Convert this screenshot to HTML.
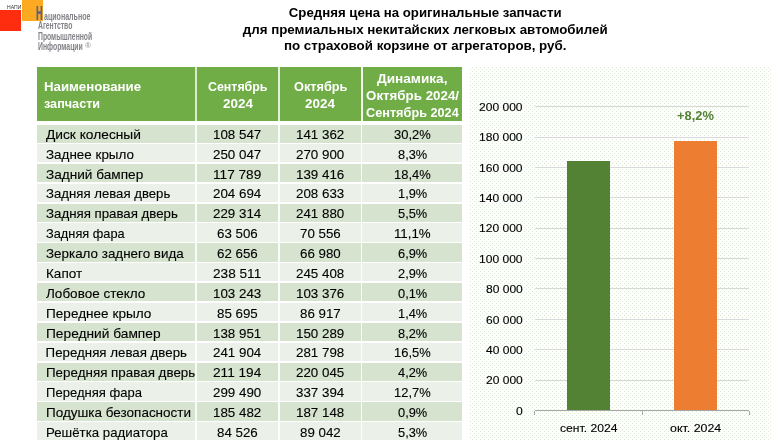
<!DOCTYPE html>
<html lang="ru"><head><meta charset="utf-8"><title>Средняя цена на оригинальные запчасти</title>
<style>
html,body{margin:0;padding:0;background:#fff}
body{position:relative;width:780px;height:445px;overflow:hidden;font-family:"Liberation Sans",sans-serif}
.r{position:absolute}
.t{position:absolute;white-space:nowrap;line-height:1;transform-origin:0 0;color:#000}
.sh{text-shadow:0.55px 0 0 #63657b}
.c{-webkit-text-stroke:0.12px currentColor}
</style></head><body>
<div id="logo">
<div class="r" style="left:0.00px;top:10.00px;width:20.90px;height:20.80px;background:#ff2d0f;"></div>
<div class="r" style="left:22.00px;top:0.00px;width:21.00px;height:20.60px;background:#fdaa22;"></div>
<span class="t" style="left:6.70px;top:5.75px;font-size:4.700px;color:#333;transform:scaleX(1.0907);">НАПИ</span>
<span class="t sh" style="left:36.30px;top:4.20px;font-size:19.400px;font-weight:700;color:#63657b;transform:scaleX(0.4709);">Н</span>
<span class="t" style="left:43.60px;top:11.90px;font-size:10.200px;font-weight:700;color:#828288;transform:scaleX(0.6924);">ациональное</span>
<span class="t" style="left:38.00px;top:21.30px;font-size:10.000px;font-weight:700;color:#828288;transform:scaleX(0.6833);">Агентство</span>
<span class="t" style="left:38.00px;top:31.70px;font-size:10.000px;font-weight:700;color:#828288;transform:scaleX(0.6803);">Промышленной</span>
<span class="t" style="left:38.00px;top:41.80px;font-size:10.000px;font-weight:700;color:#828288;transform:scaleX(0.6871);">Информации</span>
<span class="t" style="left:85.20px;top:42.20px;font-size:8.000px;color:#8e8e96;transform:scaleX(1.0159);">®</span>
</div>
<div id="title">
<span class="t" style="left:288.84px;top:6.30px;font-size:13.220px;font-weight:700;">Средняя цена на оригинальные запчасти</span>
<span class="t" style="left:242.78px;top:23.00px;font-size:13.333px;font-weight:700;">для премиальных некитайских легковых автомобилей</span>
<span class="t" style="left:283.97px;top:38.60px;font-size:13.333px;font-weight:700;">по страховой корзине от агрегаторов, руб.</span>
</div>
<div id="table">
<div class="r" style="left:37.40px;top:67.40px;width:424.70px;height:53.50px;background:#70ad47;"></div>
<div class="r" style="left:37.40px;top:125.00px;width:424.70px;height:17.50px;background:#d5e3cf;"></div>
<div class="r" style="left:37.40px;top:143.90px;width:424.70px;height:18.30px;background:#ebf1e9;"></div>
<div class="r" style="left:37.40px;top:163.77px;width:424.70px;height:18.30px;background:#d5e3cf;"></div>
<div class="r" style="left:37.40px;top:183.65px;width:424.70px;height:18.30px;background:#ebf1e9;"></div>
<div class="r" style="left:37.40px;top:203.52px;width:424.70px;height:18.30px;background:#d5e3cf;"></div>
<div class="r" style="left:37.40px;top:223.39px;width:424.70px;height:18.30px;background:#ebf1e9;"></div>
<div class="r" style="left:37.40px;top:243.27px;width:424.70px;height:18.30px;background:#d5e3cf;"></div>
<div class="r" style="left:37.40px;top:263.14px;width:424.70px;height:18.30px;background:#ebf1e9;"></div>
<div class="r" style="left:37.40px;top:283.01px;width:424.70px;height:18.30px;background:#d5e3cf;"></div>
<div class="r" style="left:37.40px;top:302.88px;width:424.70px;height:18.30px;background:#ebf1e9;"></div>
<div class="r" style="left:37.40px;top:322.76px;width:424.70px;height:18.30px;background:#d5e3cf;"></div>
<div class="r" style="left:37.40px;top:342.63px;width:424.70px;height:18.30px;background:#ebf1e9;"></div>
<div class="r" style="left:37.40px;top:362.50px;width:424.70px;height:18.30px;background:#d5e3cf;"></div>
<div class="r" style="left:37.40px;top:382.38px;width:424.70px;height:18.30px;background:#ebf1e9;"></div>
<div class="r" style="left:37.40px;top:402.25px;width:424.70px;height:18.30px;background:#d5e3cf;"></div>
<div class="r" style="left:37.40px;top:422.12px;width:424.70px;height:18.35px;background:#ebf1e9;"></div>
<div class="r" style="left:195.00px;top:67.40px;width:2.00px;height:53.50px;background:rgba(255,255,255,0.74);"></div>
<div class="r" style="left:195.15px;top:125.00px;width:1.70px;height:316.00px;background:rgba(255,255,255,0.85);"></div>
<div class="r" style="left:278.00px;top:67.40px;width:2.00px;height:53.50px;background:rgba(255,255,255,0.8);"></div>
<div class="r" style="left:278.15px;top:125.00px;width:1.70px;height:316.00px;background:rgba(255,255,255,0.88);"></div>
<div class="r" style="left:360.80px;top:67.40px;width:1.75px;height:53.50px;background:rgba(255,255,255,0.92);"></div>
<div class="r" style="left:360.95px;top:125.00px;width:1.45px;height:316.00px;background:rgba(255,255,255,0.92);"></div>
<span class="t" style="left:44.40px;top:80.00px;font-size:13.302px;font-weight:700;color:#fff;transform:scaleX(0.9952);">Наименование</span>
<span class="t" style="left:44.40px;top:96.90px;font-size:13.302px;font-weight:700;color:#fff;transform:scaleX(0.9505);">запчасти</span>
<span class="t" style="left:207.87px;top:80.00px;font-size:13.302px;font-weight:700;color:#fff;transform:scaleX(0.9317);">Сентябрь</span>
<span class="t" style="left:222.63px;top:96.90px;font-size:13.302px;font-weight:700;color:#fff;transform:scaleX(1.0116);">2024</span>
<span class="t" style="left:293.57px;top:80.00px;font-size:13.302px;font-weight:700;color:#fff;transform:scaleX(0.9583);">Октябрь</span>
<span class="t" style="left:305.33px;top:96.90px;font-size:13.302px;font-weight:700;color:#fff;transform:scaleX(1.0116);">2024</span>
<span class="t" style="left:377.07px;top:71.60px;font-size:13.302px;font-weight:700;color:#fff;transform:scaleX(1.0236);">Динамика,</span>
<span class="t" style="left:365.77px;top:88.50px;font-size:13.302px;font-weight:700;color:#fff;transform:scaleX(1.0034);">Октябрь 2024/</span>
<span class="t" style="left:365.93px;top:106.00px;font-size:13.302px;font-weight:700;color:#fff;transform:scaleX(0.9551);">Сентябрь 2024</span>
<span class="t c" style="left:45.60px;top:127.85px;font-size:13.302px;transform:scaleX(1.0340);">Диск колесный</span>
<span class="t c" style="left:213.47px;top:127.85px;font-size:13.302px;transform:scaleX(1.0036);">108 547</span>
<span class="t c" style="left:296.18px;top:127.85px;font-size:13.302px;transform:scaleX(1.0036);">141 362</span>
<span class="t c" style="left:393.95px;top:127.85px;font-size:13.302px;transform:scaleX(0.9735);">30,2%</span>
<span class="t c" style="left:45.60px;top:147.72px;font-size:13.302px;transform:scaleX(1.0104);">Заднее крыло</span>
<span class="t c" style="left:213.47px;top:147.72px;font-size:13.302px;transform:scaleX(1.0036);">250 047</span>
<span class="t c" style="left:296.18px;top:147.72px;font-size:13.302px;transform:scaleX(1.0036);">270 900</span>
<span class="t c" style="left:397.69px;top:147.72px;font-size:13.302px;transform:scaleX(0.9639);">8,3%</span>
<span class="t c" style="left:45.60px;top:167.60px;font-size:13.302px;transform:scaleX(1.0242);">Задний бампер</span>
<span class="t c" style="left:213.47px;top:167.60px;font-size:13.302px;transform:scaleX(1.0249);">117 789</span>
<span class="t c" style="left:296.18px;top:167.60px;font-size:13.302px;transform:scaleX(1.0036);">139 416</span>
<span class="t c" style="left:393.95px;top:167.60px;font-size:13.302px;transform:scaleX(0.9735);">18,4%</span>
<span class="t c" style="left:45.60px;top:187.47px;font-size:13.302px;transform:scaleX(0.9912);">Задняя левая дверь</span>
<span class="t c" style="left:213.47px;top:187.47px;font-size:13.302px;transform:scaleX(1.0036);">204 694</span>
<span class="t c" style="left:296.18px;top:187.47px;font-size:13.302px;transform:scaleX(1.0036);">208 633</span>
<span class="t c" style="left:397.69px;top:187.47px;font-size:13.302px;transform:scaleX(0.9639);">1,9%</span>
<span class="t c" style="left:45.60px;top:207.34px;font-size:13.302px;transform:scaleX(0.9976);">Задняя правая дверь</span>
<span class="t c" style="left:213.47px;top:207.34px;font-size:13.302px;transform:scaleX(1.0036);">229 314</span>
<span class="t c" style="left:296.18px;top:207.34px;font-size:13.302px;transform:scaleX(1.0036);">241 880</span>
<span class="t c" style="left:397.69px;top:207.34px;font-size:13.302px;transform:scaleX(0.9639);">5,5%</span>
<span class="t c" style="left:45.60px;top:227.22px;font-size:13.302px;transform:scaleX(0.9623);">Задняя фара</span>
<span class="t c" style="left:217.22px;top:227.22px;font-size:13.302px;transform:scaleX(1.0023);">63 506</span>
<span class="t c" style="left:299.92px;top:227.22px;font-size:13.302px;transform:scaleX(1.0023);">70 556</span>
<span class="t c" style="left:393.95px;top:227.22px;font-size:13.302px;">11,1%</span>
<span class="t c" style="left:45.60px;top:247.09px;font-size:13.302px;transform:scaleX(1.0080);">Зеркало заднего вида</span>
<span class="t c" style="left:217.22px;top:247.09px;font-size:13.302px;transform:scaleX(1.0023);">62 656</span>
<span class="t c" style="left:299.92px;top:247.09px;font-size:13.302px;transform:scaleX(1.0023);">66 980</span>
<span class="t c" style="left:397.69px;top:247.09px;font-size:13.302px;transform:scaleX(0.9639);">6,9%</span>
<span class="t c" style="left:45.60px;top:266.96px;font-size:13.302px;transform:scaleX(1.0163);">Капот</span>
<span class="t c" style="left:213.47px;top:266.96px;font-size:13.302px;transform:scaleX(1.0249);">238 511</span>
<span class="t c" style="left:296.18px;top:266.96px;font-size:13.302px;transform:scaleX(1.0036);">245 408</span>
<span class="t c" style="left:397.69px;top:266.96px;font-size:13.302px;transform:scaleX(0.9639);">2,9%</span>
<span class="t c" style="left:45.60px;top:286.83px;font-size:13.302px;transform:scaleX(1.0160);">Лобовое стекло</span>
<span class="t c" style="left:213.47px;top:286.83px;font-size:13.302px;transform:scaleX(1.0036);">103 243</span>
<span class="t c" style="left:296.18px;top:286.83px;font-size:13.302px;transform:scaleX(1.0036);">103 376</span>
<span class="t c" style="left:397.69px;top:286.83px;font-size:13.302px;transform:scaleX(0.9639);">0,1%</span>
<span class="t c" style="left:45.60px;top:306.71px;font-size:13.302px;transform:scaleX(1.0218);">Переднее крыло</span>
<span class="t c" style="left:217.22px;top:306.71px;font-size:13.302px;transform:scaleX(1.0023);">85 695</span>
<span class="t c" style="left:299.92px;top:306.71px;font-size:13.302px;transform:scaleX(1.0023);">86 917</span>
<span class="t c" style="left:397.69px;top:306.71px;font-size:13.302px;transform:scaleX(0.9639);">1,4%</span>
<span class="t c" style="left:45.60px;top:326.58px;font-size:13.302px;transform:scaleX(1.0327);">Передний бампер</span>
<span class="t c" style="left:213.47px;top:326.58px;font-size:13.302px;transform:scaleX(1.0036);">138 951</span>
<span class="t c" style="left:296.18px;top:326.58px;font-size:13.302px;transform:scaleX(1.0036);">150 289</span>
<span class="t c" style="left:397.69px;top:326.58px;font-size:13.302px;transform:scaleX(0.9639);">8,2%</span>
<span class="t c" style="left:45.60px;top:346.45px;font-size:13.302px;">Передняя левая дверь</span>
<span class="t c" style="left:213.47px;top:346.45px;font-size:13.302px;transform:scaleX(1.0036);">241 904</span>
<span class="t c" style="left:296.18px;top:346.45px;font-size:13.302px;transform:scaleX(1.0036);">281 798</span>
<span class="t c" style="left:393.95px;top:346.45px;font-size:13.302px;transform:scaleX(0.9735);">16,5%</span>
<span class="t c" style="left:45.60px;top:366.33px;font-size:13.302px;transform:scaleX(1.0070);">Передняя правая дверь</span>
<span class="t c" style="left:213.47px;top:366.33px;font-size:13.302px;transform:scaleX(1.0249);">211 194</span>
<span class="t c" style="left:296.18px;top:366.33px;font-size:13.302px;transform:scaleX(1.0036);">220 045</span>
<span class="t c" style="left:397.69px;top:366.33px;font-size:13.302px;transform:scaleX(0.9639);">4,2%</span>
<span class="t c" style="left:45.60px;top:386.20px;font-size:13.302px;transform:scaleX(0.9821);">Передняя фара</span>
<span class="t c" style="left:213.47px;top:386.20px;font-size:13.302px;transform:scaleX(1.0036);">299 490</span>
<span class="t c" style="left:296.18px;top:386.20px;font-size:13.302px;transform:scaleX(1.0036);">337 394</span>
<span class="t c" style="left:393.95px;top:386.20px;font-size:13.302px;transform:scaleX(0.9735);">12,7%</span>
<span class="t c" style="left:45.60px;top:406.07px;font-size:13.302px;transform:scaleX(1.0142);">Подушка безопасности</span>
<span class="t c" style="left:213.47px;top:406.07px;font-size:13.302px;transform:scaleX(1.0036);">185 482</span>
<span class="t c" style="left:296.18px;top:406.07px;font-size:13.302px;transform:scaleX(1.0036);">187 148</span>
<span class="t c" style="left:397.69px;top:406.07px;font-size:13.302px;transform:scaleX(0.9639);">0,9%</span>
<span class="t c" style="left:45.60px;top:425.95px;font-size:13.302px;transform:scaleX(0.9965);">Решётка радиатора</span>
<span class="t c" style="left:217.22px;top:425.95px;font-size:13.302px;transform:scaleX(1.0023);">84 526</span>
<span class="t c" style="left:299.92px;top:425.95px;font-size:13.302px;transform:scaleX(1.0023);">89 042</span>
<span class="t c" style="left:397.69px;top:425.95px;font-size:13.302px;transform:scaleX(0.9639);">5,3%</span>
</div>
<div id="chart">
<svg class="r" style="left:470px;top:67px" width="302" height="373" viewBox="0 0 302 373"><defs><pattern id="dots" width="4" height="4" patternUnits="userSpaceOnUse"><rect x="2" y="0" width="1" height="1" fill="#dbead2"/><rect x="0" y="2" width="1" height="1" fill="#dbead2"/></pattern></defs><rect width="302" height="373" fill="url(#dots)"/></svg>
<div class="r" style="left:534.50px;top:379.80px;width:214.70px;height:1.00px;background:#d9d9d9;"></div>
<div class="r" style="left:534.50px;top:348.50px;width:214.70px;height:1.00px;background:#d9d9d9;"></div>
<div class="r" style="left:534.50px;top:318.80px;width:214.70px;height:1.00px;background:#d9d9d9;"></div>
<div class="r" style="left:534.50px;top:287.90px;width:214.70px;height:1.00px;background:#d9d9d9;"></div>
<div class="r" style="left:534.50px;top:258.10px;width:214.70px;height:1.00px;background:#d9d9d9;"></div>
<div class="r" style="left:534.50px;top:227.70px;width:214.70px;height:1.00px;background:#d9d9d9;"></div>
<div class="r" style="left:534.50px;top:196.90px;width:214.70px;height:1.00px;background:#d9d9d9;"></div>
<div class="r" style="left:534.50px;top:167.10px;width:214.70px;height:1.00px;background:#d9d9d9;"></div>
<div class="r" style="left:534.50px;top:136.90px;width:214.70px;height:1.00px;background:#d9d9d9;"></div>
<div class="r" style="left:534.50px;top:105.80px;width:214.70px;height:1.00px;background:#d9d9d9;"></div>
<div class="r" style="left:567.00px;top:161.00px;width:42.95px;height:249.50px;background:#548235;"></div>
<div class="r" style="left:674.00px;top:141.00px;width:43.00px;height:269.50px;background:#ed7d31;"></div>
<div class="r" style="left:534.50px;top:410.00px;width:214.70px;height:1.00px;background:#a6a6a6;"></div>
<div class="r" style="left:534.40px;top:410.50px;width:1.00px;height:4.00px;background:#a6a6a6;"></div>
<div class="r" style="left:641.70px;top:410.50px;width:1.00px;height:4.00px;background:#a6a6a6;"></div>
<div class="r" style="left:748.70px;top:410.50px;width:1.00px;height:4.00px;background:#a6a6a6;"></div>
<span class="t c" style="left:515.63px;top:405.78px;font-size:11.333px;transform:scaleX(1.0718);">0</span>
<span class="t c" style="left:485.60px;top:375.38px;font-size:11.333px;transform:scaleX(1.0618);">20 000</span>
<span class="t c" style="left:485.60px;top:344.98px;font-size:11.333px;transform:scaleX(1.0618);">40 000</span>
<span class="t c" style="left:485.60px;top:314.58px;font-size:11.333px;transform:scaleX(1.0618);">60 000</span>
<span class="t c" style="left:485.60px;top:284.18px;font-size:11.333px;transform:scaleX(1.0618);">80 000</span>
<span class="t c" style="left:478.85px;top:253.78px;font-size:11.333px;transform:scaleX(1.0633);">100 000</span>
<span class="t c" style="left:478.85px;top:223.38px;font-size:11.333px;transform:scaleX(1.0633);">120 000</span>
<span class="t c" style="left:478.85px;top:192.98px;font-size:11.333px;transform:scaleX(1.0633);">140 000</span>
<span class="t c" style="left:478.85px;top:162.58px;font-size:11.333px;transform:scaleX(1.0633);">160 000</span>
<span class="t c" style="left:478.85px;top:132.18px;font-size:11.333px;transform:scaleX(1.0633);">180 000</span>
<span class="t c" style="left:478.85px;top:101.78px;font-size:11.333px;transform:scaleX(1.0633);">200 000</span>
<span class="t c" style="left:559.70px;top:422.80px;font-size:11.333px;transform:scaleX(1.0699);">сент. 2024</span>
<span class="t c" style="left:670.19px;top:422.80px;font-size:11.333px;transform:scaleX(1.0941);">окт. 2024</span>
<span class="t" style="left:677.25px;top:108.90px;font-size:13.302px;font-weight:700;color:#548235;transform:scaleX(0.9692);">+8,2%</span>
</div>
</body></html>
